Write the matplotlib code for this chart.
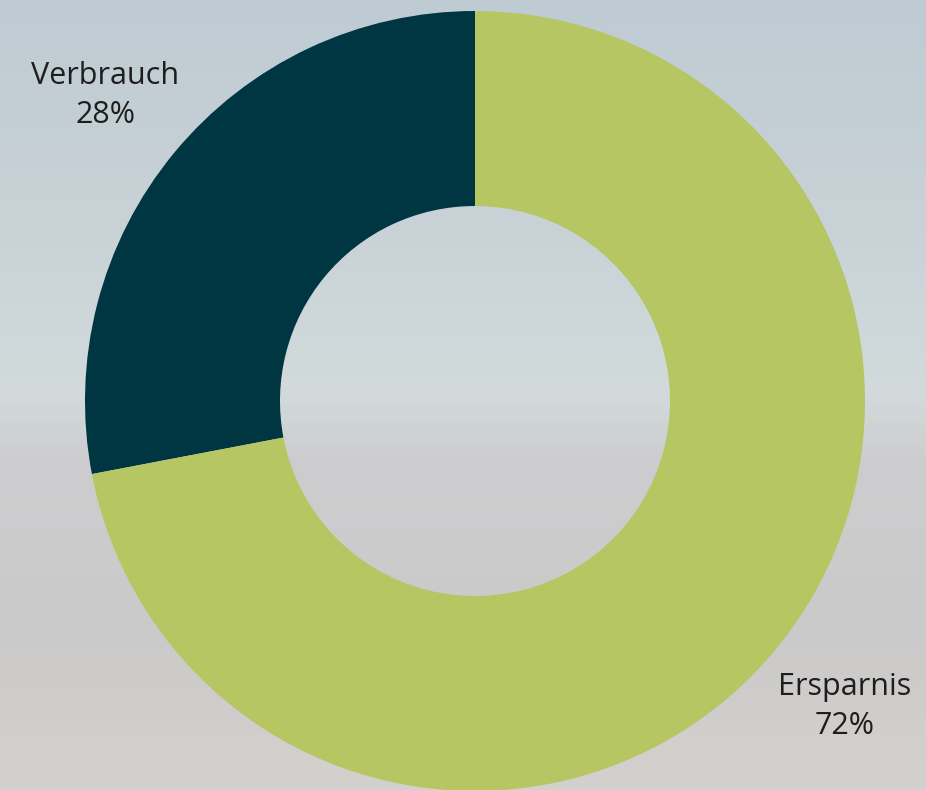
import matplotlib
matplotlib.use("Agg")
import matplotlib.pyplot as plt
import numpy as np
from matplotlib.colors import LinearSegmentedColormap

categories = ["Verbrauch", "Ersparnis"]
values = [28, 72]
colors = ["#003641", "#b5c663"]

W, H = 926, 790
fig = plt.figure(figsize=(W / 100, H / 100), dpi=100)

# background gradient (blurred sky photo look)
bg = fig.add_axes([0, 0, 1, 1])
bg.set_axis_off()
stops = [(0.0, "#bfcbd3"), (0.25, "#c7d1d6"), (0.5, "#d2dadb"),
         (0.58, "#cdcdcf"), (0.8, "#cbcaca"), (1.0, "#d4d0cd")]
cmap = LinearSegmentedColormap.from_list("bg", stops)
grad = np.linspace(0, 1, 256).reshape(-1, 1)
bg.imshow(grad, aspect="auto", cmap=cmap, extent=[0, 1, 0, 1], origin="upper")
bg.set_xlim(0, 1)
bg.set_ylim(0, 1)

ax = fig.add_axes([0, 0, 1, 1])
ax.set_axis_off()
ax.patch.set_alpha(0)
ax.set_xlim(0, W)
ax.set_ylim(0, H)
ax.set_aspect("equal")

labels = [f"{c}\n{v}%" for c, v in zip(categories, values)]
wedges, texts = ax.pie(values, colors=colors, labels=labels, startangle=90,
                       counterclock=True, center=(475, H - 401), radius=390,
                       labeldistance=1.23, frame=True,
                       wedgeprops=dict(width=195, linewidth=0),
                       textprops=dict(fontsize=22, family=["Open Sans", "DejaVu Sans"],
                                      color="#1e1e1e", ha="center", va="center",
                                      linespacing=1.38))
ax.set_axis_off()
ax.set_xlim(0, W)
ax.set_ylim(0, H)
for t in texts:
    t.set_ha("center")
    t.set_va("center")

fig.savefig("out.png", dpi=100)
